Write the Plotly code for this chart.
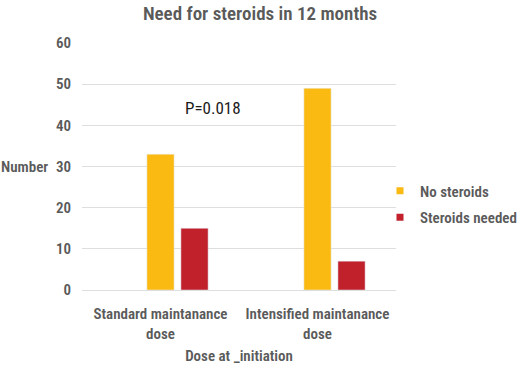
import plotly.graph_objects as go

categories = ["Standard maintanance<br>dose", "Intensified maintanance<br>dose"]
no_steroids = [33, 49]
steroids_needed = [15, 7]
empty_series = [None, None]
series_names = ["No steroids", "Steroids needed"]
series_colors = ["#FBBA12", "#C0212B"]

FONT = "Roboto Condensed, Roboto, sans-serif"
GRAY = "#5a5a5a"
WT = 600

fig = go.Figure()
fig.add_trace(go.Bar(x=categories, y=empty_series, name="", showlegend=False,
                     marker_color="rgba(0,0,0,0)"))
for name, vals, col in zip(series_names, [no_steroids, steroids_needed], series_colors):
    fig.add_trace(go.Bar(x=categories, y=vals, name=name, marker_color=col,
                         showlegend=False, legendgroup=name))
# legend entries with small square keys
for name, col in zip(series_names, series_colors):
    fig.add_trace(go.Scatter(x=[None], y=[None], mode="markers", name=name,
                             legendgroup=name,
                             marker=dict(symbol="square", size=7, color=col)))

fig.update_layout(
    width=520, height=370,
    margin=dict(l=82, r=124, t=43, b=80, autoexpand=False),
    paper_bgcolor="white", plot_bgcolor="white",
    barmode="group", bargap=0.35, bargroupgap=0.2,
    font=dict(family=FONT, color=GRAY, size=15, weight=WT),
    title=dict(text="Need for steroids in 12 months", x=0.5, xanchor="center",
               xref="container", yref="container",
               y=1 - 13 / 370, yanchor="middle",
               font=dict(size=19, color=GRAY, family=FONT, weight=WT)),
    legend=dict(xref="container", yref="container",
                x=380 / 520, xanchor="left", y=1 - 204 / 370, yanchor="middle",
                font=dict(size=15, color=GRAY, family=FONT, weight=WT),
                tracegroupgap=4, itemwidth=30, bgcolor="rgba(0,0,0,0)"),
    showlegend=True,
)
fig.update_yaxes(range=[0, 60], dtick=10, showgrid=True, gridcolor="#dedede",
                 gridwidth=1, zeroline=False, showline=False, automargin=False,
                 tickfont=dict(size=15, color=GRAY, weight=WT), ticks="",
                 ticklabelstandoff=10)
fig.update_xaxes(showline=True, linecolor="#dedede", showgrid=False, ticks="",
                 automargin=False, ticklabelstandoff=10, tickangle=0,
                 tickfont=dict(size=15, color=GRAY, weight=WT),
                 title=dict(text="Dose at _initiation",
                            font=dict(size=15, color=GRAY, weight=WT), standoff=8))

fig.add_annotation(text="Number", xref="paper", yref="y", x=-0.102, y=30,
                   xanchor="right", yanchor="middle", showarrow=False,
                   font=dict(size=15, color=GRAY, weight=WT))
fig.add_annotation(text="P=0.018", xref="paper", yref="y", x=0.417, y=44.3,
                   xanchor="center", yanchor="middle", showarrow=False,
                   font=dict(size=17, color="#1a1a1a", family="Roboto Condensed",
                             weight=400))

fig.write_html("out.html", config={"displayModeBar": False},
               post_script="document.body.style.margin='0';")
